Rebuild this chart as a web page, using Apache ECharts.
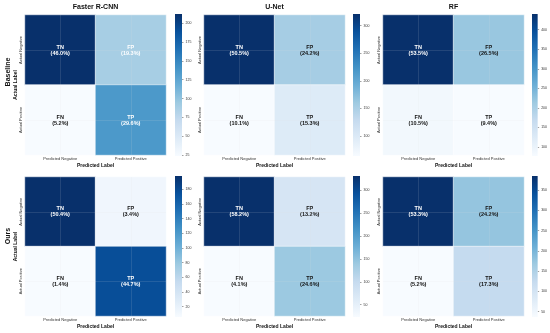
<!DOCTYPE html>
<html><head><meta charset="utf-8">
<script src="https://cdn.jsdelivr.net/npm/echarts@6/dist/echarts.min.js"></script>
<style>html,body{margin:0;padding:0;background:#fff}#c{width:550px;height:333px}</style>
</head><body><div id="c"></div>
<script>
// ---- data ----
const models = ['Faster R-CNN', 'U-Net', 'RF'];
const rowNames = ['Baseline', 'Ours'];
const xCats = ['Predicted Negative', 'Predicted Positive'];
const yCats = ['Actual Negative', 'Actual Positive'];
const cellNames = ['TN', 'FP', 'FN', 'TP'];
// counts [TN, FP, FN, TP] (estimated from colour scale)
const baseFRCNN = [212, 89, 24, 136];
const baseUNet  = [321, 154, 64, 97];
const baseRF    = [440, 218, 86, 77];
const oursFRCNN = [198, 13, 6, 176];
const oursUNet  = [331, 75, 23, 140];
const oursRF    = [385, 175, 37, 125];
// percentages printed in cells
const pctBaseFRCNN = ['46.0', '19.3', '5.2', '29.6'];
const pctBaseUNet  = ['50.5', '24.2', '10.1', '15.3'];
const pctBaseRF    = ['53.5', '26.5', '10.5', '9.4'];
const pctOursFRCNN = ['50.4', '3.4', '1.4', '44.7'];
const pctOursUNet  = ['58.2', '13.2', '4.1', '24.6'];
const pctOursRF    = ['53.3', '24.2', '5.2', '17.3'];
// colour bar tick labels
const ticksBaseFRCNN = [25, 50, 75, 100, 125, 150, 175, 200];
const ticksBaseUNet  = [100, 150, 200, 250, 300];
const ticksBaseRF    = [100, 150, 200, 250, 300, 350, 400];
const ticksOursFRCNN = [20, 40, 60, 80, 100, 120, 140, 160, 180];
const ticksOursUNet  = [50, 100, 150, 200, 250, 300];
const ticksOursRF    = [50, 100, 150, 200, 250, 300, 350];

const panels = [
  {counts: baseFRCNN, pct: pctBaseFRCNN, ticks: ticksBaseFRCNN},
  {counts: baseUNet,  pct: pctBaseUNet,  ticks: ticksBaseUNet},
  {counts: baseRF,    pct: pctBaseRF,    ticks: ticksBaseRF},
  {counts: oursFRCNN, pct: pctOursFRCNN, ticks: ticksOursFRCNN},
  {counts: oursUNet,  pct: pctOursUNet,  ticks: ticksOursUNet},
  {counts: oursRF,    pct: pctOursRF,    ticks: ticksOursRF}
];

// ---- layout & style ----
const blues = ['#f7fbff','#deebf7','#c6dbef','#9ecae1','#6baed6','#4292c6','#2171b5','#08519c','#08306b'];
const FONT = 'Liberation Sans, Arial, sans-serif';
const colLeft = [25, 204, 383];
const cbLeft = [175, 353, 532];
const rowTop = [15, 177];
const rowH = [140, 139];
const cellW = 141;
// normalised-value threshold above which annotation text is white (per panel)
const whiteTextThreshold = [0.3, 0.5, 0.5, 0.5, 0.5, 0.5];

const grid = [], xAxis = [], yAxis = [], series = [], visualMap = [], graphic = [];

panels.forEach((p, i) => {
  const r = Math.floor(i / 3), c = i % 3;
  const mn = Math.min(...p.counts), mx = Math.max(...p.counts);
  grid.push({left: colLeft[c], top: rowTop[r], width: cellW, height: rowH[r]});
  xAxis.push({type: 'category', gridIndex: i, data: xCats, position: 'bottom',
    axisLine: {show: false}, axisTick: {show: false}, splitLine: {show: false},
    axisLabel: {fontSize: 4, fontFamily: FONT, color: '#333', margin: 2},
    name: 'Predicted Label', nameLocation: 'middle', nameGap: 8,
    nameTextStyle: {fontSize: 5, fontWeight: 'bold', fontFamily: FONT, color: '#111'}});
  yAxis.push({type: 'category', gridIndex: i, data: yCats, inverse: true,
    axisLine: {show: false}, axisTick: {show: false}, splitLine: {show: false},
    axisLabel: {fontSize: 4, fontFamily: FONT, color: '#333', margin: 2, rotate: 90},
    name: c === 0 ? 'Actual Label' : '', nameLocation: 'middle', nameGap: 4, nameRotate: 90,
    nameTextStyle: {fontSize: 5, fontWeight: 'bold', fontFamily: FONT, color: '#111'}});
  const data = p.counts.map((v, k) => {
    const norm = (v - mn) / (mx - mn);
    return {value: [k % 2, Math.floor(k / 2), v], name: cellNames[k], pct: p.pct[k],
      label: {color: norm > whiteTextThreshold[i] ? '#ffffff' : '#111111'}};
  });
  series.push({type: 'heatmap', xAxisIndex: i, yAxisIndex: i, data: data,
    itemStyle: {borderColor: '#ffffff', borderWidth: 0.5},
    label: {show: true, fontSize: 5.5, fontWeight: 'bold', fontFamily: FONT, lineHeight: 6,
      formatter: (q) => q.data.name + '\n(' + q.data.pct + '%)'},
    markLine: {silent: true, symbol: 'none', label: {show: false},
      lineStyle: {color: 'rgba(225,225,225,0.22)', width: 0.6, type: 'solid'},
      data: xCats.map(x => ({xAxis: x})).concat(yCats.map(y => ({yAxis: y})))},
    emphasis: {disabled: true}, silent: true});
  visualMap.push({type: 'continuous', show: false, seriesIndex: series.length - 1,
    dimension: 2, min: mn, max: mx, inRange: {color: blues}});
});

// colour bars
panels.forEach((p, i) => {
  const r = Math.floor(i / 3), c = i % 3;
  const mn = Math.min(...p.counts), mx = Math.max(...p.counts);
  const g = 6 + i;
  grid.push({left: cbLeft[c], top: rowTop[r] - 1, width: 7, height: rowH[r] + 2});
  xAxis.push({type: 'category', gridIndex: g, data: [''], show: false});
  yAxis.push({type: 'value', gridIndex: g, position: 'right', min: mn, max: mx,
    axisLine: {show: false}, splitLine: {show: false},
    axisTick: {show: true, length: 1.5, lineStyle: {color: '#444', width: 0.5}, customValues: p.ticks},
    axisLabel: {fontSize: 3.5, fontFamily: FONT, color: '#333', margin: 3.5, customValues: p.ticks}});
  series.push({type: 'bar', xAxisIndex: g, yAxisIndex: g, stack: 'cb' + i, barWidth: '100%',
    data: [mn], itemStyle: {color: 'rgba(0,0,0,0)'}, silent: true, clip: true});
  series.push({type: 'bar', xAxisIndex: g, yAxisIndex: g, stack: 'cb' + i, barWidth: '100%',
    data: [mx - mn], silent: true,
    itemStyle: {color: new echarts.graphic.LinearGradient(0, 1, 0, 0,
      blues.map((col, k) => ({offset: k / (blues.length - 1), color: col})))}});
});

// titles and row labels
models.forEach((m, c) => {
  graphic.push({type: 'text', x: colLeft[c] + cellW / 2, y: 7,
    style: {text: m, fontSize: 7, fontWeight: 'bold', fontFamily: FONT, fill: '#111',
      align: 'center', verticalAlign: 'middle'}});
});
const rowLabelY = [72, 236];
rowNames.forEach((n, r) => {
  graphic.push({type: 'text', x: 8, y: rowLabelY[r], rotation: Math.PI / 2,
    style: {text: n, fontSize: 7, fontWeight: 'bold', fontFamily: FONT, fill: '#111',
      align: 'center', verticalAlign: 'middle'}});
});

const chart = echarts.init(document.getElementById('c'), null, {renderer: 'canvas'});
chart.setOption({backgroundColor: '#ffffff', animation: false,
  grid, xAxis, yAxis, series, visualMap, graphic});
</script></body></html>
